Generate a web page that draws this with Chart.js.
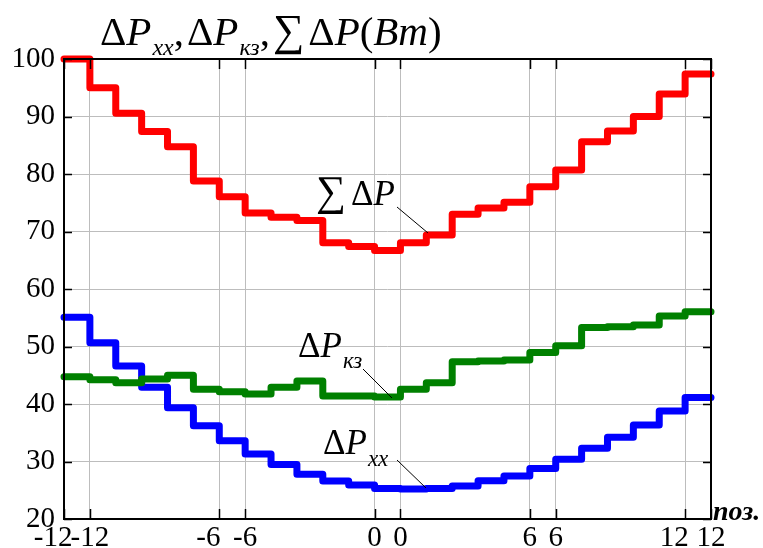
<!DOCTYPE html>
<html>
<head>
<meta charset="utf-8">
<script src="https://cdn.jsdelivr.net/npm/chart.js@4"></script>
<style>
  html, body { margin: 0; padding: 0; background: #fff; }
  #wrap { width: 763px; height: 548px; position: relative; }
</style>
</head>
<body>
<div id="wrap"><canvas id="lossChart"></canvas></div>
<script>
// положения переключателя РПН
const positions = [-12, -11, -10, -9, -8, -7, -6, -5, -4, -3, -2, -1, 0, 1, 2, 3, 4, 5, 6, 7, 8, 9, 10, 11, 12];
// потери холостого хода, Вт
const noLoadLoss = [55.1, 50.65, 46.6, 42.9, 39.35, 36.2, 33.6, 31.3, 29.5, 27.8, 26.6, 25.9, 25.3, 25.2, 25.3, 25.75, 26.65, 27.5, 28.8, 30.4, 32.3, 34.2, 36.35, 38.8, 41.15];
// потери короткого замыкания, Вт
const shortCircuitLoss = [44.75, 44.2, 43.7, 44.35, 45.0, 42.55, 42.15, 41.75, 42.9, 44.0, 41.4, 41.4, 41.2, 42.55, 43.7, 47.35, 47.5, 47.65, 48.95, 50.15, 53.3, 53.45, 53.75, 55.3, 56.05];
// суммарные потери, Вт
const totalLoss = [100, 95.0, 90.55, 87.4, 84.75, 78.8, 76.05, 73.2, 72.5, 71.9, 68.05, 67.4, 66.7, 68.05, 69.4, 73.0, 74.1, 75.1, 77.8, 80.7, 85.6, 87.5, 90.0, 93.9, 97.4];
// подписанные положения (по обе стороны ступени)
const labeledPositions = [-12, -6, 0, 6, 12];
const yTicks = [20, 30, 40, 50, 60, 70, 80, 90, 100];

const serif = '"Liberation Serif", "Times New Roman", serif';
Chart.defaults.font.family = serif;
Chart.defaults.color = '#000';

// каждая ступень занимает интервал [i, i+1]
function steps(values) {
    return values.flatMap((v, i) => [{ x: i, y: v }, { x: i + 1, y: v }]);
}

const tickValues = labeledPositions.flatMap(p => {
    const i = positions.indexOf(p);
    return [i, i + 1];
});

function seg(ctx, parts, x, y) {
    parts.forEach(p => {
        ctx.font = p.font;
        ctx.fillText(p.t, x, y + (p.dy || 0));
        x += ctx.measureText(p.t).width + (p.gap || 0);
    });
}

const decorPlugin = {
    id: 'decor',
    afterDatasetsDraw(chart) {
        const ctx = chart.ctx;
        const a = chart.chartArea;
        const xs = chart.scales.x, ys = chart.scales.y;
        ctx.save();
        // рамка
        ctx.strokeStyle = '#000';
        ctx.lineWidth = 2;
        ctx.strokeRect(a.left, a.top, a.right - a.left, a.bottom - a.top);
        // внутренние риски
        ctx.lineWidth = 1.5;
        ctx.beginPath();
        tickValues.forEach(v => {
            const px = Math.round(xs.getPixelForValue(v)) + 0.5;
            ctx.moveTo(px, a.bottom); ctx.lineTo(px, a.bottom - 10);
            ctx.moveTo(px, a.top); ctx.lineTo(px, a.top + 10);
        });
        yTicks.forEach(v => {
            const py = Math.round(ys.getPixelForValue(v)) + 0.5;
            ctx.moveTo(a.left, py); ctx.lineTo(a.left + 8, py);
            ctx.moveTo(a.right, py); ctx.lineTo(a.right - 8, py);
        });
        ctx.stroke();

        ctx.fillStyle = '#000';
        ctx.textBaseline = 'alphabetic';
        ctx.textAlign = 'left';
        const up = s => s + 'px ' + serif;
        const it = s => 'italic ' + s + 'px ' + serif;

        // заголовок
        seg(ctx, [
            { t: 'Δ', font: up(41) }, { t: 'P', font: it(41), gap: 1 },
            { t: 'xx', font: it(24), dy: 10 }, { t: ',', font: up(41), gap: 3 },
            { t: 'Δ', font: up(41) }, { t: 'P', font: it(41), gap: 1 },
            { t: 'кз', font: it(24), dy: 10 }, { t: ',', font: up(41), gap: 3 },
            { t: '∑', font: up(44), gap: 4 }, { t: 'Δ', font: up(41) },
            { t: 'P', font: it(41) }, { t: '(', font: up(41) },
            { t: 'Bm', font: it(41) }, { t: ')', font: up(41) }
        ], 100, 45);

        // подписи кривых
        seg(ctx, [{ t: '∑', font: up(42), gap: 5 }, { t: 'Δ', font: up(35) }, { t: 'P', font: it(35) }], 316, 205);
        seg(ctx, [{ t: 'Δ', font: up(35) }, { t: 'P', font: it(35), gap: 1 }, { t: 'кз', font: it(23), dy: 11 }], 298, 357);
        seg(ctx, [{ t: 'Δ', font: up(35) }, { t: 'P', font: it(35), gap: 1 }, { t: 'xx', font: it(23), dy: 12 }], 323, 454);

        ctx.lineWidth = 1;
        ctx.beginPath();
        ctx.moveTo(397, 207); ctx.lineTo(428, 233);
        ctx.moveTo(363, 369); ctx.lineTo(392, 398);
        ctx.moveTo(397, 460); ctx.lineTo(426, 488);
        ctx.stroke();

        // подпись оси
        ctx.font = 'bold italic 28px ' + serif;
        ctx.fillText('поз.', 713, 520);
        ctx.restore();
    }
};

const lineStyle = {
    fill: false,
    clip: false,
    borderWidth: 7,
    pointRadius: 0,
    borderCapStyle: 'round',
    borderJoinStyle: 'round',
    tension: 0
};

new Chart(document.getElementById('lossChart').getContext('2d'), {
    type: 'line',
    data: {
        datasets: [
            Object.assign({ label: '∑ΔP', data: steps(totalLoss), borderColor: '#ff0000' }, lineStyle),
            Object.assign({ label: 'ΔPкз', data: steps(shortCircuitLoss), borderColor: '#008000' }, lineStyle),
            Object.assign({ label: 'ΔPxx', data: steps(noLoadLoss), borderColor: '#0000ff' }, lineStyle)
        ]
    },
    options: {
        responsive: true,
        maintainAspectRatio: false,
        animation: false,
        layout: { padding: { top: 59, right: 52, left: 0, bottom: 0 } },
        plugins: {
            legend: { display: false },
            tooltip: { enabled: false }
        },
        scales: {
            x: {
                type: 'linear',
                min: 0,
                max: positions.length,
                afterBuildTicks: scale => { scale.ticks = tickValues.map(v => ({ value: v })); },
                afterFit: scale => { scale.height = 29; },
                grid: { color: '#bdbdbd', lineWidth: 1, drawTicks: false },
                border: { display: false },
                ticks: {
                    autoSkip: false,
                    maxRotation: 0,
                    padding: 2,
                    color: '#000',
                    font: { family: serif, size: 29 },
                    callback: value => {
                        const k = tickValues.indexOf(value);
                        if (k < 0) return '';
                        const s = String(labeledPositions[Math.floor(k / 2)]);
                        // левую из пары широких подписей сдвигаем влево, чтобы не слипались
                        return (k % 2 === 0 && s.length > 1) ? s + '   ' : s;
                    }
                }
            },
            y: {
                min: 20,
                max: 100,
                afterFit: scale => { scale.width = 64; },
                grid: { color: '#bdbdbd', lineWidth: 1, drawTicks: false },
                border: { display: false },
                ticks: {
                    stepSize: 10,
                    padding: 9,
                    color: '#000',
                    font: { family: serif, size: 29 }
                }
            }
        }
    },
    plugins: [decorPlugin]
});
</script>
</body>
</html>
